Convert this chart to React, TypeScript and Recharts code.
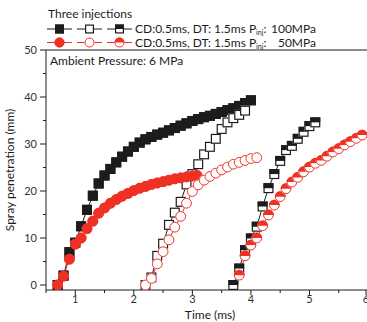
import { LineChart, Line, XAxis, YAxis, ReferenceLine } from 'recharts';

const RED = '#ee3124';
const INK = '#1c1c1c';
const FONT = 'Lato, "Liberation Sans", sans-serif';

// 100 MPa injection pressure
const t100First = [0.7, 0.8, 0.9, 1.0, 1.1, 1.2, 1.3, 1.4, 1.5, 1.6, 1.7, 1.8, 1.9, 2.0, 2.1, 2.2, 2.3, 2.4, 2.5, 2.6, 2.7, 2.8, 2.9, 3.0, 3.1, 3.2, 3.3, 3.4, 3.5, 3.6, 3.7, 3.8, 3.9, 4.0];
const pen100First = [0, 2, 7, 9, 12.5, 16, 19, 21.6, 23.3, 24.7, 26.1, 27.3, 28.4, 29.4, 30.3, 31, 31.5, 32, 32.4, 32.9, 33.4, 33.9, 34.4, 34.9, 35.3, 35.7, 36, 36.4, 36.8, 37.2, 37.6, 38.1, 38.7, 39.3];
const t100Second = [2.2, 2.3, 2.4, 2.5, 2.6, 2.7, 2.8, 2.9, 3.0, 3.1, 3.2, 3.3, 3.4, 3.5, 3.6, 3.7, 3.8, 3.9];
const pen100Second = [0, 1.6, 6.2, 8.8, 12.8, 15.4, 17.7, 21.4, 23.6, 25.7, 27.8, 29.4, 31.1, 33.2, 34.6, 35.5, 36.2, 37.1];
const t100Third = [3.7, 3.8, 3.9, 4.0, 4.1, 4.2, 4.3, 4.4, 4.5, 4.6, 4.7, 4.8, 4.9, 5.0, 5.1];
const pen100Third = [0, 3.5, 7.4, 9.9, 12.4, 16.7, 20.6, 23.6, 26.4, 28.7, 29.6, 31.1, 32.6, 33.8, 34.6];

// 50 MPa injection pressure
const t50First = [0.7, 0.8, 0.9, 1.0, 1.1, 1.2, 1.3, 1.4, 1.5, 1.6, 1.7, 1.8, 1.9, 2.0, 2.1, 2.2, 2.3, 2.4, 2.5, 2.6, 2.7, 2.8, 2.9, 3.0, 3.08];
const pen50First = [0, 1.9, 5.5, 8.7, 10, 12, 13.6, 15.3, 16.4, 17.4, 18.2, 18.9, 19.5, 20.1, 20.6, 21, 21.4, 21.7, 22, 22.3, 22.6, 22.8, 23, 23.2, 23.3];
const t50Second = [2.2, 2.3, 2.4, 2.5, 2.6, 2.7, 2.8, 2.9, 3.0, 3.1, 3.2, 3.3, 3.4, 3.5, 3.6, 3.7, 3.8, 3.9, 4.0, 4.1];
const pen50Second = [0, 1.4, 4.5, 7.1, 9.6, 12.3, 14.6, 17.4, 19.9, 21.3, 22.3, 23.1, 23.8, 24.5, 25.1, 25.7, 26.1, 26.5, 26.9, 27.1];
const t50Third = [3.8, 3.9, 4.0, 4.1, 4.2, 4.3, 4.4, 4.5, 4.6, 4.7, 4.8, 4.9, 5.0, 5.1, 5.2, 5.3, 5.4, 5.5, 5.6, 5.7, 5.8, 5.9];
const pen50Third = [2.1, 6.2, 8.5, 10, 12.6, 14.9, 17, 18.8, 20.5, 21.9, 22.9, 24.1, 25.1, 25.9, 26.5, 27.4, 28.3, 29, 29.8, 30.5, 31.2, 31.9];

const xTicks = [0.5, 1, 1.5, 2, 2.5, 3, 3.5, 4, 4.5, 5, 5.5, 6];
const yTicks = [0, 5, 10, 15, 20, 25, 30, 35, 40, 45, 50];

const zip = (ts: number[], vs: number[]) => ts.map((t, i) => ({ t, v: vs[i] }));

type Kind = 'filled' | 'open' | 'half';

function Square({ cx, cy, kind, s = 10 }: { cx: number; cy: number; kind: Kind; s?: number }) {
  const h = s / 2;
  return (
    <g>
      <rect x={cx - h} y={cy - h} width={s} height={s} fill={kind === 'filled' ? INK : '#fff'} />
      {kind === 'half' && <rect x={cx - h} y={cy - h} width={s} height={h} fill={INK} />}
      <rect x={cx - h + 0.6} y={cy - h + 0.6} width={s - 1.2} height={s - 1.2} fill="none" stroke={INK} strokeWidth={1.2} />
    </g>
  );
}

function Circle({ cx, cy, kind, r = 5.4 }: { cx: number; cy: number; kind: Kind; r?: number }) {
  return (
    <g>
      <circle cx={cx} cy={cy} r={r} fill={kind === 'filled' ? RED : '#fff'} />
      {kind === 'half' && <path d={`M${cx - r},${cy} A${r},${r} 0 0 1 ${cx + r},${cy} Z`} fill={RED} />}
      <circle cx={cx} cy={cy} r={r - 0.5} fill="none" stroke={RED} strokeWidth={1} />
    </g>
  );
}

const squareDot = (kind: Kind) => (p: any) => <Square key={p.index} cx={p.cx} cy={p.cy} kind={kind} />;
const circleDot = (kind: Kind) => (p: any) => <Circle key={p.index} cx={p.cx} cy={p.cy} kind={kind} />;

function XTick({ x, y, payload }: any) {
  const major = Number.isInteger(payload.value);
  return (
    <g>
      <line x1={x} x2={x} y1={y} y2={y + (major ? 5 : 3)} stroke={INK} />
      {major && (
        <text x={x} y={y + 13} textAnchor="middle" fontSize={11} fill="#333" fontFamily={FONT}>
          {payload.value}
        </text>
      )}
    </g>
  );
}

function YTick({ x, y, payload }: any) {
  const major = payload.value % 10 === 0;
  return (
    <g>
      <line x1={x} x2={x - (major ? 6 : 3)} y1={y} y2={y} stroke={INK} />
      {major && (
        <text x={x - 9} y={y + 4} textAnchor="end" fontSize={11} fill="#333" fontFamily={FONT}>
          {payload.value}
        </text>
      )}
    </g>
  );
}

function LegendRow({ y, color, mark, pressure }: { y: number; color: string; mark: 'square' | 'circle'; pressure: string }) {
  const kinds: Kind[] = ['filled', 'open', 'half'];
  const starts = [47, 77, 107];
  return (
    <g>
      {kinds.map((k, i) => (
        <g key={k}>
          <line x1={starts[i]} x2={starts[i] + 25} y1={y} y2={y} stroke={color} strokeWidth={1} />
          {mark === 'square' ? (
            <Square cx={starts[i] + 12.5} cy={y} kind={k} s={9} />
          ) : (
            <Circle cx={starts[i] + 12.5} cy={y} kind={k} r={5} />
          )}
        </g>
      ))}
      <text x={135} y={y + 4} fontSize={12} fill={INK} fontFamily={FONT}>
        CD:0.5ms, DT: 1.5ms P<tspan fontSize={7} dy={2}>inj</tspan>
        <tspan dy={-2}>:</tspan>
      </text>
      <text x={316} y={y + 4} fontSize={12} fill={INK} fontFamily={FONT} textAnchor="end">
        {pressure}
      </text>
    </g>
  );
}

export default function App() {
  return (
    <div style={{ position: 'absolute', left: 0, top: 0, width: 367, height: 322, overflow: 'hidden', background: '#fff' }}>
      <LineChart width={370} height={322} margin={{ top: 50, right: 2, bottom: 0, left: 0 }}>
        <XAxis
          dataKey="t"
          type="number"
          domain={[0.5, 6]}
          ticks={xTicks}
          allowDataOverflow
          height={32}
          tickSize={0}
          tickMargin={0}
          tickLine={false}
          tick={<XTick />}
          axisLine={{ stroke: INK }}
          label={{
            content: () => (
              <text x={210} y={319} textAnchor="middle" fontSize={12} fill={INK} fontFamily={FONT}>
                Time (ms)
              </text>
            ),
          }}
        />
        <YAxis
          type="number"
          domain={[-1.06, 50]}
          ticks={yTicks}
          allowDataOverflow
          width={46}
          tickSize={0}
          tickMargin={0}
          tickLine={false}
          tick={<YTick />}
          axisLine={{ stroke: INK }}
          label={{
            content: () => (
              <text x={14} y={170} transform="rotate(-90 14 170)" textAnchor="middle" fontSize={12} fill={INK} fontFamily={FONT}>
                Spray penetration (mm)
              </text>
            ),
          }}
        />
        <ReferenceLine y={50} stroke={INK} />
        <Line data={zip(t100First, pen100First)} dataKey="v" stroke={INK} strokeWidth={1} dot={squareDot('filled')} isAnimationActive={false} />
        <Line data={zip(t100Second, pen100Second)} dataKey="v" stroke={INK} strokeWidth={1} dot={squareDot('open')} isAnimationActive={false} />
        <Line data={zip(t100Third, pen100Third)} dataKey="v" stroke={INK} strokeWidth={1} dot={squareDot('half')} isAnimationActive={false} />
        <Line data={zip(t50First, pen50First)} dataKey="v" stroke={RED} strokeWidth={1} dot={circleDot('filled')} isAnimationActive={false} />
        <Line data={zip(t50Second, pen50Second)} dataKey="v" stroke={RED} strokeWidth={1} dot={circleDot('open')} isAnimationActive={false} />
        <Line data={zip(t50Third, pen50Third)} dataKey="v" stroke={RED} strokeWidth={1} dot={circleDot('half')} isAnimationActive={false} />
      </LineChart>
      <svg width={367} height={322} style={{ position: 'absolute', left: 0, top: 0, pointerEvents: 'none' }}>
        <text x={48} y={18} fontSize={12} fill={INK} fontFamily={FONT}>
          Three injections
        </text>
        <LegendRow y={29} color={INK} mark="square" pressure="100MPa" />
        <LegendRow y={42.5} color={RED} mark="circle" pressure="50MPa" />
        <text x={50} y={65} fontSize={12} fill={INK} fontFamily={FONT}>
          Ambient Pressure: 6 MPa
        </text>
      </svg>
    </div>
  );
}
